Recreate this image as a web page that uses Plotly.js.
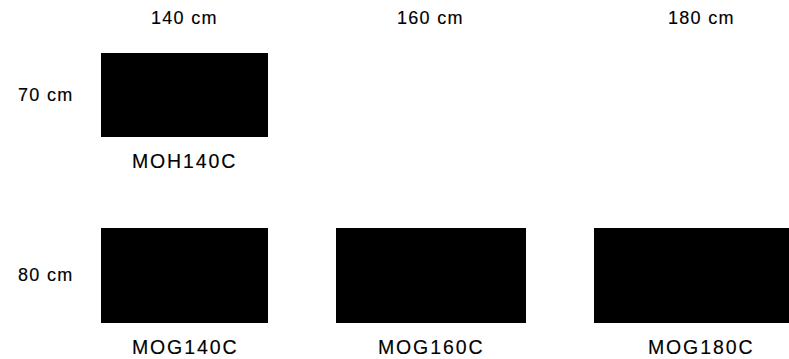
<!DOCTYPE html>
<html>
<head>
<meta charset="utf-8">
<script src="https://cdn.plot.ly/plotly-3.0.1.min.js"></script>
<style>
  html, body { margin: 0; padding: 0; background: #fff; }
  #chart { width: 789px; height: 359px; }
  svg text.annotation-text { letter-spacing: 1.3px; stroke: #000; stroke-width: 0.15px; }
  g.annotation[data-index="5"] text.annotation-text,
  g.annotation[data-index="6"] text.annotation-text,
  g.annotation[data-index="7"] text.annotation-text,
  g.annotation[data-index="8"] text.annotation-text { letter-spacing: 1.9px; }
</style>
</head>
<body>
<div id="chart"></div>
<script>
// ---- data ----
const columnWidthsCm = [140, 160, 180];
const columnLabels = ['140 cm', '160 cm', '180 cm'];
const rowDepthsCm = [70, 80];
const rowLabels = ['70 cm', '80 cm'];
const productCodes = ['MOH140C', 'MOG140C', 'MOG160C', 'MOG180C'];
const productWidths = [140, 140, 160, 180];
const productDepths = [70, 80, 80, 80];

// ---- layout constants (pixels) ----
const W = 789, H = 359;
const PX_PER_CM = 167 / 140;
const LEFT_PX = 101, GAP_PX = 67.5;
const ROW_TOP_PX = [53, 227.5];
const HEADER_Y_PX = 17.5, LABEL_OFFSET_PX = 24, ROW_LABEL_X_PX = 16;

const toU = px => px / PX_PER_CM;

// column centers in cm-units
const colCenters = [];
let cursor = LEFT_PX;
columnWidthsCm.forEach(w => {
  const wpx = w * PX_PER_CM;
  colCenters.push(toU(cursor + wpx / 2));
  cursor += wpx + GAP_PX;
});
const rowTops = ROW_TOP_PX.map(toU);

const px = productWidths.map(w => colCenters[columnWidthsCm.indexOf(w)]);
const pbase = productDepths.map(d => rowTops[rowDepthsCm.indexOf(d)]);

const trace = {
  type: 'bar',
  x: px,
  y: productDepths,
  base: pbase,
  width: productWidths,
  marker: { color: '#000000', line: { width: 0 } },
  hoverinfo: 'skip',
  showlegend: false
};

const font = { family: '"Liberation Sans", Arial, sans-serif', color: '#000000' };
const annotations = [];
columnLabels.forEach((t, i) => annotations.push({
  text: t, x: colCenters[i], y: toU(HEADER_Y_PX), xref: 'x', yref: 'y',
  xanchor: 'center', yanchor: 'middle', showarrow: false,
  font: Object.assign({ size: 18 }, font)
}));
rowLabels.forEach((t, i) => annotations.push({
  text: t, x: toU(ROW_LABEL_X_PX), y: rowTops[i] + rowDepthsCm[i] / 2, xref: 'x', yref: 'y',
  xanchor: 'left', yanchor: 'middle', showarrow: false,
  font: Object.assign({ size: 18 }, font)
}));
productCodes.forEach((t, i) => annotations.push({
  text: t, x: px[i], y: pbase[i] + productDepths[i] + toU(LABEL_OFFSET_PX), xref: 'x', yref: 'y',
  xanchor: 'center', yanchor: 'middle', showarrow: false,
  font: Object.assign({ size: 19.5 }, font)
}));

const layout = {
  width: W, height: H,
  margin: { l: 0, r: 0, t: 0, b: 0, pad: 0 },
  paper_bgcolor: '#ffffff', plot_bgcolor: '#ffffff',
  xaxis: { range: [0, toU(W)], visible: false, fixedrange: true },
  yaxis: { range: [toU(H), 0], visible: false, fixedrange: true },
  annotations: annotations,
  bargap: 0
};

Plotly.newPlot('chart', [trace], layout, { displayModeBar: false, staticPlot: true });
</script>
</body>
</html>
